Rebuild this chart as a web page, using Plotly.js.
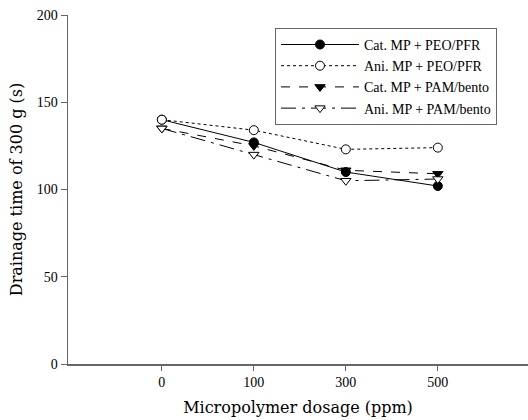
<!DOCTYPE html>
<html><head><meta charset="utf-8">
<script src="https://cdn.plot.ly/plotly-3.0.1.min.js"></script>
<style>html,body{margin:0;padding:0;background:#fff}#plot{width:528px;height:420px}</style>
</head><body><div id="plot"></div>
<script>
const dosageLabels = ["0", "100", "300", "500"];
const catPEO = [140, 127, 110, 102];
const aniPEO = [140, 134, 123, 124];
const catPAM = [135, 125, 111, 109];
const aniPAM = [135, 120, 105, 106];
const seriesNames = ["Cat. MP + PEO/PFR", "Ani. MP + PEO/PFR", "Cat. MP + PAM/bento", "Ani. MP + PAM/bento"];

const idx = dosageLabels.map((_, i) => i);
const font = {family: "Liberation Serif, serif", color: "#000"};
const titleFont = {family: "DejaVu Serif, serif", color: "#000", size: 16};
function tr(y, name, dash, sym, open) {
  return {x: idx, y: y, name: name, mode: "lines+markers", type: "scatter",
    line: {color: "#000", width: 1, dash: dash},
    marker: {symbol: sym, size: 9, color: open ? "#fff" : "#000", line: {color: "#000", width: 1}}};
}
const data = [
  tr(catPEO, seriesNames[0], "solid", "circle", false),
  tr(aniPEO, seriesNames[1], "dot", "circle", true),
  tr(catPAM, seriesNames[2], "dash", "triangle-down", false),
  tr(aniPAM, seriesNames[3], "longdashdot", "triangle-down", true)
];
const layout = {
  width: 528, height: 420,
  margin: {l: 68, r: 0, t: 15, b: 56},
  paper_bgcolor: "#fff", plot_bgcolor: "#fff",
  font: Object.assign({size: 14}, font),
  showlegend: true,
  legend: {x: 0.45, y: 0.963, xanchor: "left", yanchor: "top", bordercolor: "#666", borderwidth: 1,
    font: Object.assign({size: 14}, font), itemwidth: 78, tracegroupgap: 0, bgcolor: "#fff"},
  xaxis: {range: [-1.02, 3.98], tickvals: idx, ticktext: dosageLabels, showgrid: false, zeroline: false,
    showline: true, linecolor: "#666", linewidth: 1.5, ticks: "outside", ticklen: 5, tickcolor: "#666",
    title: {text: "Micropolymer dosage (ppm)", font: titleFont, standoff: 12},
    tickfont: Object.assign({size: 14}, font)},
  yaxis: {range: [0, 200], tickvals: [0, 50, 100, 150, 200], showgrid: false, zeroline: false,
    showline: true, linecolor: "#666", linewidth: 1.5, ticks: "outside", ticklen: 6, tickcolor: "#666",
    title: {text: "Drainage time of 300 g (s)", font: titleFont, standoff: 10},
    tickfont: Object.assign({size: 14}, font)}
};
Plotly.newPlot("plot", data, layout, {displayModeBar: false, staticPlot: true});
</script></body></html>
